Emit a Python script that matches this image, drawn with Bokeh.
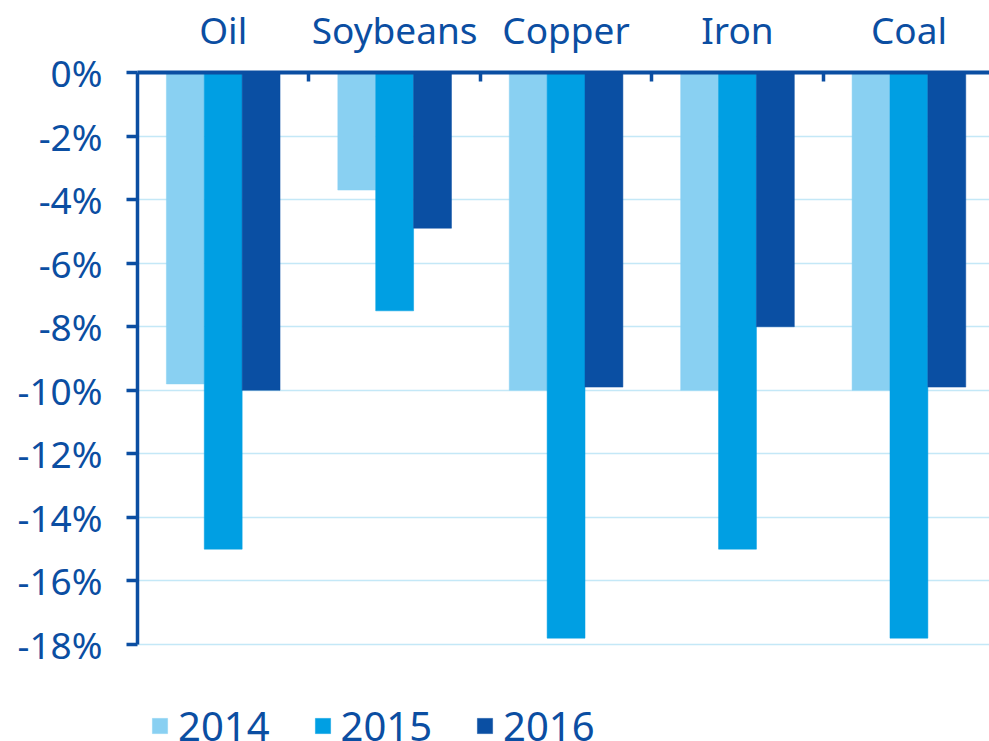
from bokeh.plotting import figure
from bokeh.models import (ColumnDataSource, Range1d, LinearAxis, FixedTicker, PrintfTickFormatter,
                          Grid, Legend, LegendItem)
from bokeh.transform import dodge
from bokeh.embed import file_html
from bokeh.resources import INLINE

# ---- data ----
categories = ["Oil", "Soybeans", "Copper", "Iron", "Coal"]
years = ["2014", "2015", "2016"]
v2014 = [-9.8, -3.7, -10.0, -10.0, -10.0]
v2015 = [-15.0, -7.5, -17.8, -15.0, -17.8]
v2016 = [-10.0, -4.9, -9.9, -8.0, -9.9]
y_ticks = [0, -2, -4, -6, -8, -10, -12, -14, -16, -18]

# ---- style ----
FONT = "Noto Sans"
TXT = "#0b4ea2"
COLORS = ["#89d0f2", "#009fe3", "#0a4fa3"]
GRID = "#c4e8f7"

# layout: the axis part of the frame is 572px for the tick span, plus 97px of room below for the legend
AXIS_PX = 572
LEGEND_PX = 97
y_lo, y_hi = min(y_ticks), max(y_ticks)
y_start = y_lo - LEGEND_PX * (y_hi - y_lo) / AXIS_PX

centers = [i + 0.5 for i in range(len(categories))]
boundaries = [i for i in range(1, len(categories))]
src = ColumnDataSource(dict(x=centers, v2014=v2014, v2015=v2015, v2016=v2016))

p = figure(frame_width=852, frame_height=AXIS_PX + LEGEND_PX, output_backend="svg", toolbar_location=None,
           x_range=Range1d(0, 4.97), y_range=Range1d(y_start, y_hi),
           x_axis_type=None, y_axis_type=None,
           min_border_left=137, min_border_right=0, min_border_top=72, min_border_bottom=0)
p.outline_line_color = None
p.background_fill_color = "white"
p.border_fill_color = "white"

# grid
yticker = FixedTicker(ticks=y_ticks)
p.add_layout(Grid(dimension=1, ticker=yticker, grid_line_color=GRID, grid_line_width=1.5))

# bars
bw = 0.221
fields = ["v2014", "v2015", "v2016"]
offsets = [-bw, 0.0, bw]
renderers = []
for f, off, c in zip(fields, offsets, COLORS):
    r = p.vbar(x=dodge("x", off, range=p.x_range), top=f, bottom=0, width=bw, source=src,
               fill_color=c, line_color=c, line_width=0.5)
    renderers.append(r)

# left axis
yaxis = LinearAxis(ticker=yticker, formatter=PrintfTickFormatter(format="%d%%"), bounds=(y_lo, y_hi))
yaxis.axis_line_color = TXT
yaxis.axis_line_width = 3.5
yaxis.major_tick_line_color = TXT
yaxis.major_tick_line_width = 3.5
yaxis.major_tick_out = 11
yaxis.major_tick_in = 0
yaxis.minor_tick_line_color = None
yaxis.major_label_text_font = FONT
yaxis.major_label_text_font_size = "37px"
yaxis.major_label_text_color = TXT
yaxis.major_label_standoff = 24
p.add_layout(yaxis, "left")

# top axis with category labels at centers and ticks at boundaries
xaxis = LinearAxis(ticker=FixedTicker(ticks=centers, minor_ticks=boundaries))
xaxis.major_label_overrides = {c: name for c, name in zip(centers, categories)}
xaxis.axis_line_color = TXT
xaxis.axis_line_width = 4
xaxis.major_tick_in = 0
xaxis.major_tick_out = 0
xaxis.minor_tick_in = 9
xaxis.minor_tick_out = 0
xaxis.minor_tick_line_color = TXT
xaxis.minor_tick_line_width = 3.5
xaxis.major_label_text_font = FONT
xaxis.major_label_text_font_size = "37px"
xaxis.major_label_text_color = TXT
xaxis.major_label_standoff = 18
p.add_layout(xaxis, "above")

legend = Legend(items=[LegendItem(label=y, renderers=[r]) for y, r in zip(years, renderers)],
                orientation="horizontal", location=(13, -12),
                glyph_width=19, glyph_height=19, label_standoff=9, spacing=43,
                label_text_font=FONT, label_text_font_size="40px", label_text_color=TXT,
                border_line_color=None, background_fill_alpha=0,
                margin=0, padding=0)
p.add_layout(legend, "center")

open("out.html", "w").write(file_html(p, INLINE))
